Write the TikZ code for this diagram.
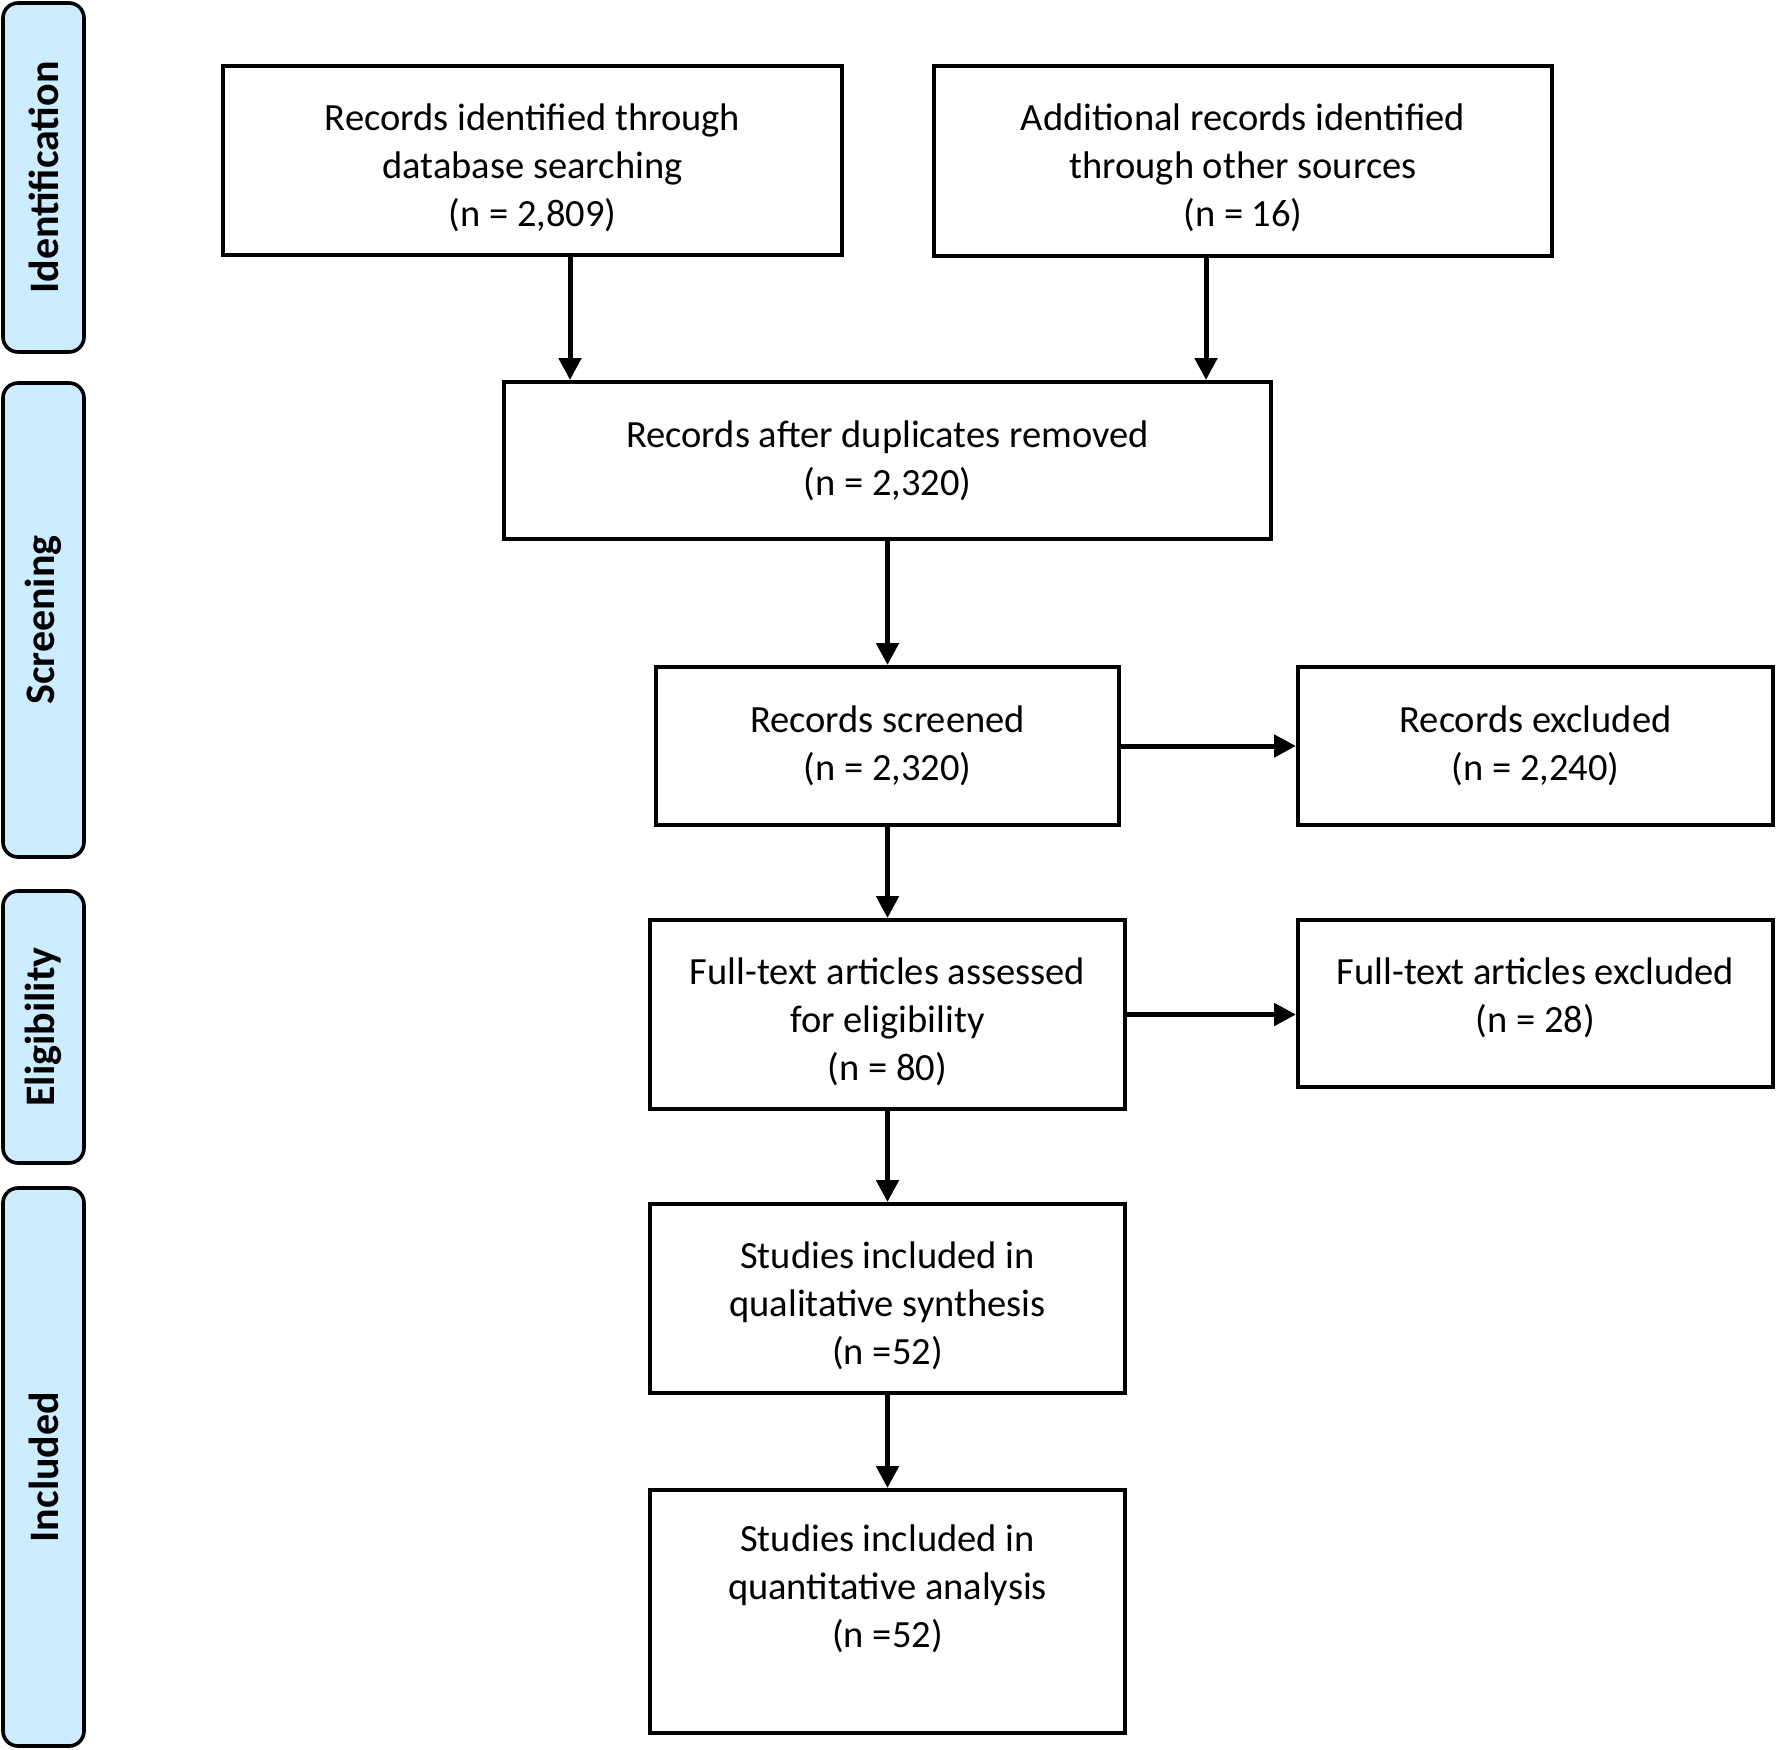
\documentclass[tikz,border=0pt]{standalone}
\usepackage{fontspec}
\setmainfont{Carlito}
\usetikzlibrary{arrows.meta}
\definecolor{phaseblue}{RGB}{204,236,255}
\tikzset{
  box/.style={draw=black, line width=4pt, inner sep=0pt},
  boxtext/.style={align=center, inner sep=0pt, font=\fontsize{38.5}{48}\selectfont},
  phase/.style={draw=black, fill=phaseblue, line width=3.6pt, rounded corners=15pt, rotate=90, inner sep=0pt, minimum height=81pt, font=\fontsize{42}{46}\selectfont\bfseries},
  arr/.style={line width=5pt, -{Triangle[length=22pt,width=22pt]}}
}
\begin{document}
\begin{tikzpicture}[x=1pt, y=-1pt]
  \useasboundingbox (0,0) rectangle (1776,1749);
  % phases
  \node[phase, minimum width=349pt] (ident) at (43.5,177.5) {Identification};
  \node[phase, minimum width=474pt] (screen) at (43.5,620) {Screening};
  \node[phase, minimum width=272pt] (elig) at (43.5,1027) {Eligibility};
  \node[phase, minimum width=558pt] (incl) at (43.5,1467) {Included};
  % boxes
  \node[box, minimum width=619pt, minimum height=189pt] (db) at (532.5,160.5) {};
  \node[box, minimum width=618pt, minimum height=190pt] (other) at (1243,161) {};
  \node[box, minimum width=767pt, minimum height=157pt] (dup) at (887.5,460.5) {};
  \node[box, minimum width=463pt, minimum height=158pt] (scr) at (887.5,746) {};
  \node[box, minimum width=475pt, minimum height=158pt] (exc) at (1535.5,746) {};
  \node[box, minimum width=475pt, minimum height=189pt] (ft) at (887.5,1014.5) {};
  \node[box, minimum width=475pt, minimum height=167pt] (ftx) at (1535.5,1003.5) {};
  \node[box, minimum width=475pt, minimum height=189pt] (qual) at (887.5,1298.5) {};
  \node[box, minimum width=475pt, minimum height=243pt] (quant) at (887.5,1611.5) {};
  % texts
  \node[boxtext] (dbtext) at ([yshift=-7pt]db.center)
    {Records identified through\\database searching\\(n = 2,809)};
  \node[boxtext] (othertext) at ([yshift=-7pt]other.center)
    {Additional records identified\\through other sources\\(n = 16)};
  \node[boxtext] (duptext) at (dup.center)
    {Records after duplicates removed\\(n = 2,320)};
  \node[boxtext] (scrtext) at (scr.center)
    {Records screened\\(n = 2,320)};
  \node[boxtext] (exctext) at (exc.center)
    {Records excluded\\(n = 2,240)};
  \node[boxtext] (fttext) at ([yshift=-7pt]ft.center)
    {Full-text articles assessed\\for eligibility\\(n = 80)};
  \node[boxtext] (ftxtext) at ([yshift=6pt]ftx.center)
    {Full-text articles excluded\\(n = 28)};
  \node[boxtext] (qualtext) at ([yshift=-7pt]qual.center)
    {Studies included in\\qualitative synthesis\\(n =52)};
  \node[boxtext] (quanttext) at ([yshift=23pt]quant.center)
    {Studies included in\\quantitative analysis\\(n =52)};
  % arrows
  \coordinate (dupa) at ([xshift=68pt]dup.north west);
  \coordinate (dupb) at ([xshift=-67pt]dup.north east);
  \draw[arr] (dupa |- db.south) -- (dupa);
  \draw[arr] (dupb |- other.south) -- (dupb);
  \draw[arr] (dup) -- (scr);
  \draw[arr] (scr) -- (ft);
  \draw[arr] (ft) -- (qual);
  \draw[arr] (qual) -- (quant);
  \draw[arr] (scr.east) -- (scr.east -| exc.west);
  \draw[arr] (ft.east) -- (ft.east -| ftx.west);
\end{tikzpicture}
\end{document}
